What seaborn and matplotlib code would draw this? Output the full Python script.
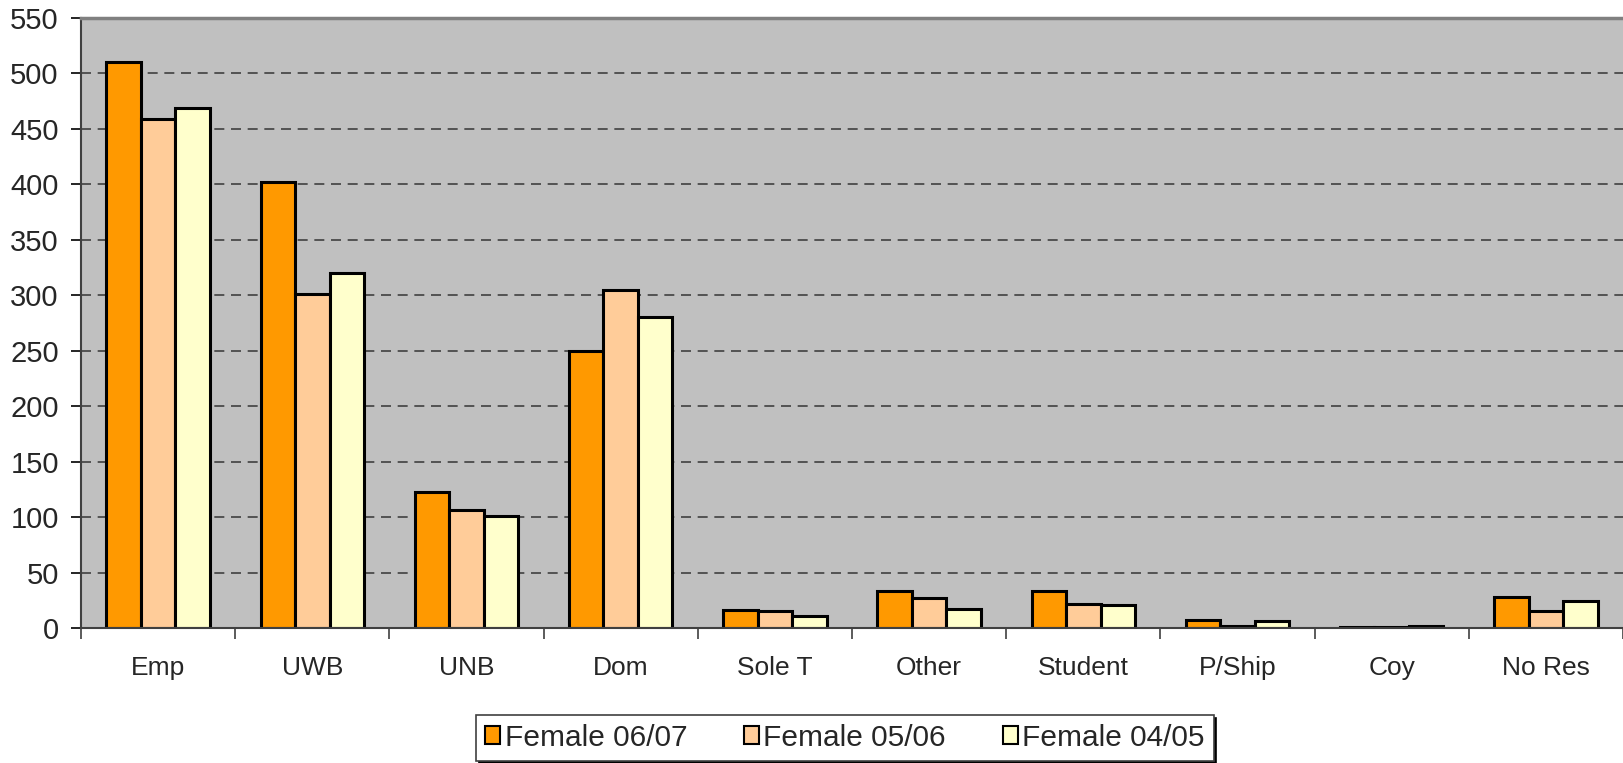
import seaborn as sns
import pandas as pd
import matplotlib.pyplot as plt
from matplotlib.ticker import MultipleLocator, FixedLocator

# data
categories = ["Emp", "UWB", "UNB", "Dom", "Sole T", "Other", "Student", "P/Ship", "Coy", "No Res"]
series_names = ["Female 06/07", "Female 05/06", "Female 04/05"]
female_0607 = [510, 402, 123, 250, 16, 33, 33, 7, 1, 28]
female_0506 = [459, 301, 106, 305, 15, 27, 22, 2, 1, 15]
female_0405 = [469, 320, 101, 280, 11, 17, 21, 6, 2, 24]
colors = ["#FF9900", "#FFCC99", "#FFFFCC"]

# long form table for seaborn
df = pd.DataFrame({
    "cat": categories * 3,
    "series": [series_names[0]] * 10 + [series_names[1]] * 10 + [series_names[2]] * 10,
    "value": female_0607 + female_0506 + female_0405,
})

sns.set_style("white")
plt.rcParams["font.family"] = ["Liberation Sans", "DejaVu Sans"]

fig = plt.figure(figsize=(16.23, 7.63), dpi=100)
ax = fig.add_axes([81 / 1623, 1 - 628 / 763, 1 - 81 / 1623, 610 / 763])
ax.set_facecolor("#C0C0C0")

sns.barplot(data=df, x="cat", y="value", hue="series", order=categories,
            hue_order=series_names, palette=colors, width=0.67, gap=0,
            saturation=1, edgecolor="black", linewidth=2.2, ax=ax, errorbar=None)

ax.set_ylim(0, 550)
ax.set_xlim(-0.5, len(categories) - 0.5)
ax.yaxis.set_major_locator(MultipleLocator(50))
for y in range(50, 550, 50):
    ax.axhline(y, color="#404040", lw=1.2, ls=(0, (6, 4)), zorder=0)
ax.set_axisbelow(True)

ax.set_xlabel("")
ax.set_ylabel("")
ax.tick_params(axis="y", labelsize=21, length=7, width=1.2, color="black", pad=9, left=True)
ax.tick_params(axis="x", which="major", labelsize=19, length=0, pad=20)
ax.xaxis.set_minor_locator(FixedLocator([i - 0.5 for i in range(len(categories) + 1)]))
ax.tick_params(axis="x", which="minor", length=8, width=1.2, color="#404040", bottom=True)

for side in ["left", "bottom"]:
    ax.spines[side].set_color("#404040")
    ax.spines[side].set_linewidth(1.5)
ax.spines["top"].set_color("#808080")
ax.spines["top"].set_linewidth(2.5)
ax.spines["right"].set_visible(False)

ax.legend_.remove()
leg = fig.legend(*ax.get_legend_handles_labels(), loc="center",
                 bbox_to_anchor=(845 / 1623, 1 - 738 / 763), ncol=3,
                 fontsize=21.5, frameon=True, fancybox=False,
                 shadow={"color": "black", "alpha": 1}, handlelength=0.5,
                 handleheight=0.55, handletextpad=0.15, columnspacing=1.9,
                 borderpad=0.3, borderaxespad=0)
leg.get_frame().set_edgecolor("#404040")
leg.get_frame().set_linewidth(1.2)
for h in leg.legend_handles:
    h.set_edgecolor("black")
    h.set_linewidth(1.5)

fig.savefig("out.png", dpi=100)
